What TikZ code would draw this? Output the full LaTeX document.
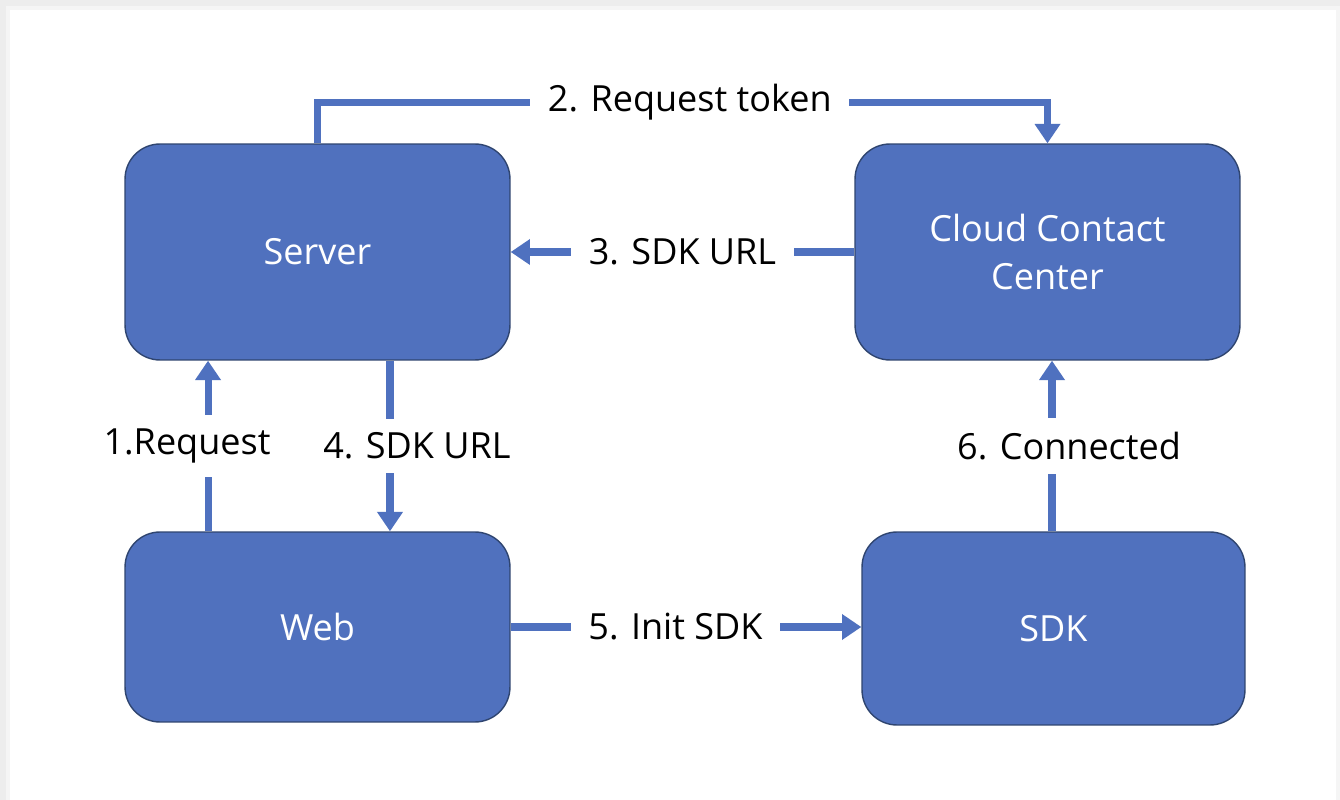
\documentclass[tikz,border=0pt]{standalone}
\usepackage{fontspec}
\setmainfont{Open Sans}
\usetikzlibrary{arrows.meta}

\definecolor{boxblue}{RGB}{80,113,190}
\definecolor{boxline}{RGB}{47,69,112}
\definecolor{flowblue}{RGB}{79,113,191}

\begin{document}
\begin{tikzpicture}[x=0.02cm,y=-0.02cm,
    box/.style={draw=boxline, line width=0.8pt, fill=boxblue, rounded corners=0.7cm,
        text=white, align=center, font=\fontsize{20.5}{27}\selectfont},
    flow/.style={draw=flowblue, line width=4pt, -{Triangle[width=14pt,length=11pt]}},
    lbl/.style={fill=white, inner xsep=10pt, inner ysep=8pt, text=black,
        font=\fontsize{20.5}{25}\selectfont}]

    % Cornice e sfondo
    \useasboundingbox (0,0) rectangle (1340,800);
    \fill[black!7] (0,0) rectangle (1340,800);
    \fill[black!4] (6,6) rectangle (1340,800);
    \fill[white] (10,10) rectangle (1336,800);

    % Blocchi
    \node[box, minimum width=7.7cm, minimum height=4.32cm] (server) at (317.5,252) {Server};
    \node[box, minimum width=7.7cm, minimum height=4.32cm] (ccc) at (1047.5,252) {Cloud Contact\\Center};
    \node[box, minimum width=7.7cm, minimum height=3.8cm] (web) at (317.5,627) {Web};
    \node[box, minimum width=7.66cm, minimum height=3.86cm] (sdk) at (1053.5,628.5) {SDK};

    % Frecce
    \draw[flow] ([xshift=-2.19cm]web.north) -- node[lbl, xshift=-0.42cm] {1.Request} ([xshift=-2.19cm]server.south);
    \draw[flow] (server.north) -- ++(0,-41) -| node[lbl, pos=0.255] {2. Request token} (ccc.north);
    \draw[flow] (ccc.west) -- node[lbl] {3. SDK URL} (server.east);
    \draw[flow] ([xshift=1.45cm]server.south) -- node[lbl, xshift=0.54cm] {4. SDK URL} ([xshift=1.45cm]web.north);
    \draw[flow] (web.east) -- node[lbl, pos=0.47] {5. Init SDK} (web.east -| sdk.west);
    \draw[flow] ([xshift=-0.03cm]sdk.north) -- node[lbl, xshift=0.34cm] {6. Connected} ([xshift=-0.03cm]sdk.north |- ccc.south);

\end{tikzpicture}
\end{document}
